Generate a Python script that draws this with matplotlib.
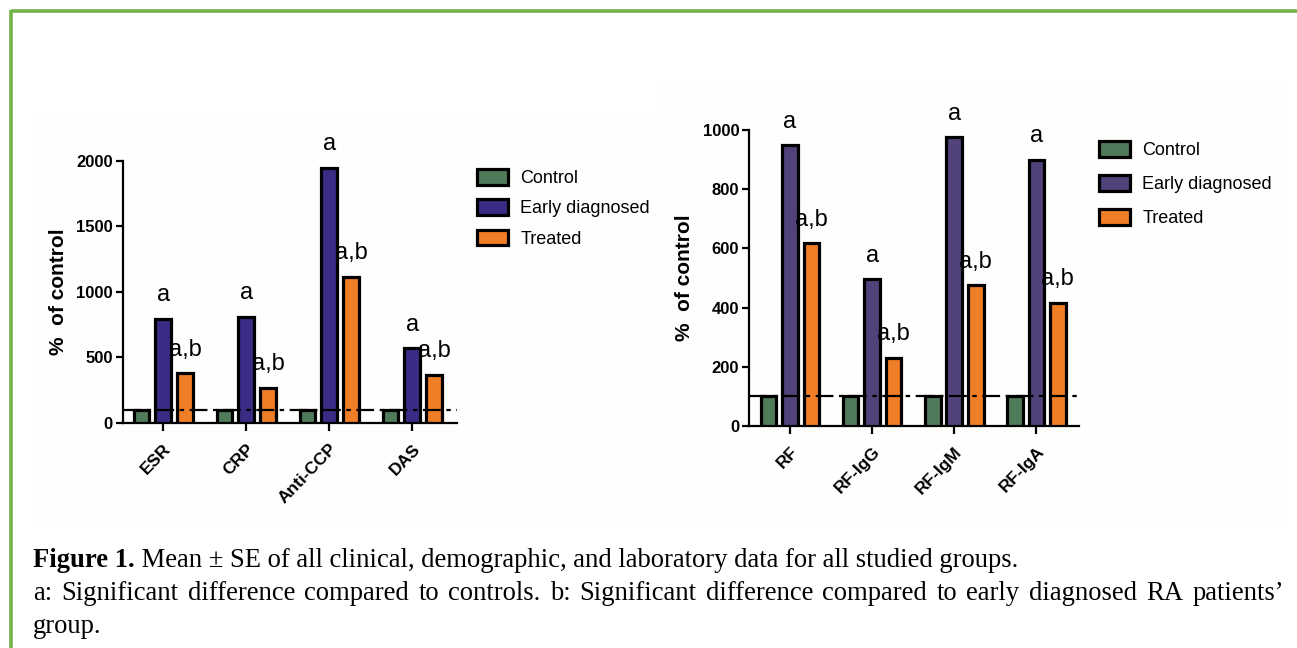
import matplotlib
matplotlib.use("Agg")
import matplotlib.pyplot as plt
from matplotlib.patches import Rectangle, Patch
from matplotlib.lines import Line2D
import numpy as np

# ---------------- data ----------------
groups = ["Control", "Early diagnosed", "Treated"]

left_categories = ["ESR", "CRP", "Anti-CCP", "DAS"]
left_control = [100, 100, 100, 100]
left_early = [795, 810, 1945, 570]
left_treated = [380, 270, 1115, 368]
left_yticks = [0, 500, 1000, 1500, 2000]

right_categories = ["RF", "RF-IgG", "RF-IgM", "RF-IgA"]
right_control = [100, 100, 100, 100]
right_early = [948, 495, 975, 900]
right_treated = [617, 231, 476, 416]
right_yticks = [0, 200, 400, 600, 800, 1000]

early_labels = ["a", "a", "a", "a"]
treated_labels = ["a,b", "a,b", "a,b", "a,b"]
reference_level = 100

caption_bold = "Figure 1."
caption_line1 = " Mean \u00b1 SE of all clinical, demographic, and laboratory data for all studied groups."
caption_line2 = ("a: Significant difference compared to controls. b: Significant difference "
                 "compared to early diagnosed RA patients\u2019")
caption_line3 = "group."

# ---------------- style ----------------
W, H = 1297, 648
fig = plt.figure(figsize=(W / 100, H / 100), dpi=100)
fig.patch.set_facecolor("white")

green = "#4f7b5b"
orange = "#f07e26"
purple_left = "#3a2b84"
purple_right = "#51427a"
border_green = "#74b347"

sans = ["Liberation Sans", "DejaVu Sans"]
serif = ["Liberation Serif", "DejaVu Serif"]

# faint panel backgrounds
fig.add_artist(Rectangle((33 / W, 1 - 526 / H), (660 - 33) / W, (526 - 116) / H,
                         transform=fig.transFigure, facecolor="#fefefc", edgecolor="none", zorder=-10))
fig.add_artist(Rectangle((663 / W, 1 - 527 / H), (1283 - 663) / W, (527 - 80) / H,
                         transform=fig.transFigure, facecolor="#fefefc", edgecolor="none", zorder=-10))

# green border (top and left)
fig.add_artist(Line2D([11 / W, 1.0], [1 - 10.5 / H, 1 - 10.5 / H], transform=fig.transFigure,
                      color=border_green, lw=2.6, solid_capstyle="butt"))
fig.add_artist(Line2D([11 / W, 11 / W], [0.0, 1 - 9.5 / H], transform=fig.transFigure,
                      color=border_green, lw=2.6, solid_capstyle="butt"))


def draw_panel(rect, cats, ctrl, early, treated, yticks, ymax, early_color, xlim, legend_pos, legend_spacing):
    ax = fig.add_axes(rect)
    ax.set_facecolor("none")
    x = np.arange(len(cats))
    bw = 0.19
    off = 0.262
    lw = 2.3
    ax.bar(x - off, ctrl, bw, color=green, edgecolor="black", linewidth=lw, zorder=3)
    ax.bar(x, early, bw, color=early_color, edgecolor="black", linewidth=lw, zorder=3)
    ax.bar(x + off, treated, bw, color=orange, edgecolor="black", linewidth=lw, zorder=3)
    ax.axhline(reference_level, color="black", lw=1.6, linestyle=(0, (8, 2.5, 2, 2.5)), zorder=4)
    for xi, v, lab in zip(x, early, early_labels):
        ax.annotate(lab, (xi, v), xytext=(0, 9), textcoords="offset points", ha="center",
                    va="bottom", fontsize=17, family=sans, annotation_clip=False)
    for xi, v, lab in zip(x + off, treated, treated_labels):
        ax.annotate(lab, (xi, v), xytext=(0, 9), textcoords="offset points", ha="center",
                    va="bottom", fontsize=17, family=sans, annotation_clip=False)
    ax.set_xlim(*xlim)
    ax.set_ylim(0, ymax)
    ax.set_yticks(yticks)
    ax.set_yticklabels([str(t) for t in yticks], fontsize=12, fontweight="bold", family=sans)
    ax.set_xticks(x)
    ax.set_xticklabels(cats, rotation=46, ha="right", va="top", rotation_mode="anchor",
                       fontsize=12.5, fontweight="bold", family=sans)
    for s in ["top", "right"]:
        ax.spines[s].set_visible(False)
    for s in ["left", "bottom"]:
        ax.spines[s].set_linewidth(1.6)
    ax.tick_params(axis="y", length=5, width=1.6, pad=2)
    ax.tick_params(axis="x", length=6, width=1.6, pad=7)
    ax.set_ylabel("%  of control", fontsize=15, fontweight="bold", family=sans, labelpad=6)
    handles = [Patch(facecolor=c, edgecolor="black", linewidth=2.3)
               for c in [green, early_color, orange]]
    fig.legend(handles, groups, loc="upper left", bbox_to_anchor=legend_pos,
               bbox_transform=fig.transFigure, frameon=False,
               prop={"family": sans, "size": 13}, handlelength=1.7, handleheight=0.95,
               handletextpad=0.7, labelspacing=legend_spacing, borderaxespad=0, borderpad=0)
    return ax


# left panel
draw_panel([122.7 / W, 1 - 423 / H, (457 - 122.7) / W, (423 - 160.7) / H],
           left_categories, left_control, left_early, left_treated, left_yticks, 2000,
           purple_left, (-0.49, 3.54), (477 / W, 1 - 169 / H), 0.68)
# right panel
draw_panel([749 / W, 1 - 426 / H, (1079 - 749) / W, (426 - 130) / H],
           right_categories, right_control, right_early, right_treated, right_yticks, 1000,
           purple_right, (-0.5, 3.52), (1099 / W, 1 - 141 / H), 0.9)

# ---------------- caption ----------------
fig.canvas.draw()
renderer = fig.canvas.get_renderer()


def text_width(s, size, weight="normal"):
    t = fig.text(0, 0, s, fontsize=size, family=serif, fontweight=weight)
    w = t.get_window_extent(renderer).width
    t.remove()
    return w


base = 16.0
w1 = text_width(caption_bold, base, "bold") + text_width(caption_line1, base)
cap_size = base * (1019 - 33) / w1

x0 = 33 / W
t1 = fig.text(x0, 1 - 567 / H, caption_bold, fontsize=cap_size, fontweight="bold",
              family=serif, ha="left", va="baseline")
bb = t1.get_window_extent(renderer)
fig.text(bb.x1 / W, 1 - 567 / H, caption_line1, fontsize=cap_size, family=serif,
         ha="left", va="baseline")

# justified second line
words = caption_line2.split(" ")
target_right = 1284
widths = [text_width(w_, cap_size) for w_ in words]
gap = (target_right - 33 - sum(widths)) / (len(words) - 1)
xpos = 33.0
for w_, wd in zip(words, widths):
    fig.text(xpos / W, 1 - 600 / H, w_, fontsize=cap_size, family=serif, ha="left", va="baseline")
    xpos += wd + gap

fig.text(x0, 1 - 633 / H, caption_line3, fontsize=cap_size, family=serif, ha="left", va="baseline")

fig.savefig("out.png", dpi=100, facecolor="white")
